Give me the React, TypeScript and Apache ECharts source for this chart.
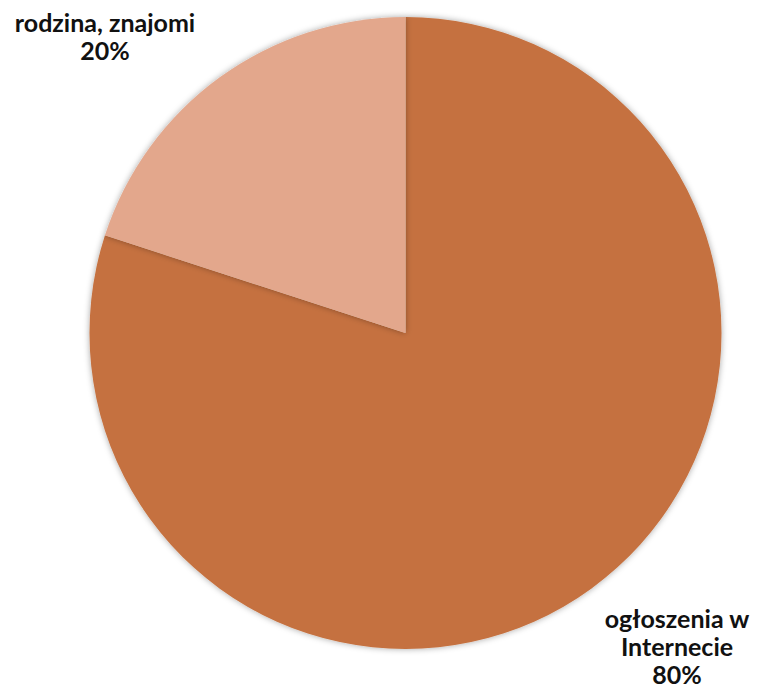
import React, { useEffect, useRef } from "react";
import * as echarts from "echarts";

const categories = ["ogłoszenia w\nInternecie", "rodzina, znajomi"];
const values = [80, 20];
const colors = ["#C5713F", "#E3A78C"];

export default function App() {
  const ref = useRef<HTMLDivElement>(null);
  useEffect(() => {
    if (!ref.current) return;
    const chart = echarts.init(ref.current, null, { renderer: "svg" });
    const labelPos = [
      { x: 677, y: 646 },
      { x: 105, y: 36 },
    ];
    chart.setOption({
      animation: false,
      backgroundColor: "#ffffff",
      series: [
        {
          type: "pie",
          center: [405.5, 333],
          radius: [0, 316],
          startAngle: 90,
          clockwise: true,
          data: categories.map((name, i) => ({
            name,
            value: values[i],
            itemStyle: { color: colors[i] },
          })),
          itemStyle: {
            shadowBlur: 6,
            shadowColor: "rgba(0,0,0,0.35)",
          },
          label: {
            show: true,
            formatter: "{b}\n{d}%",
            fontFamily: "Lato",
            fontWeight: "bold",
            fontSize: 25,
            lineHeight: 28,
            color: "#111111",
            align: "center",
            overflow: "none",
            width: 300,
          },
          labelLine: { show: false },
          labelLayout: (params: any) => {
            const p = labelPos[params.dataIndex];
            return { x: p.x, y: p.y, align: "center", verticalAlign: "middle" };
          },
          emphasis: { disabled: true },
        },
      ],
    });
    return () => chart.dispose();
  }, []);
  return (
    <div
      ref={ref}
      style={{ position: "absolute", left: 0, top: 0, width: 763, height: 690 }}
    />
  );
}
